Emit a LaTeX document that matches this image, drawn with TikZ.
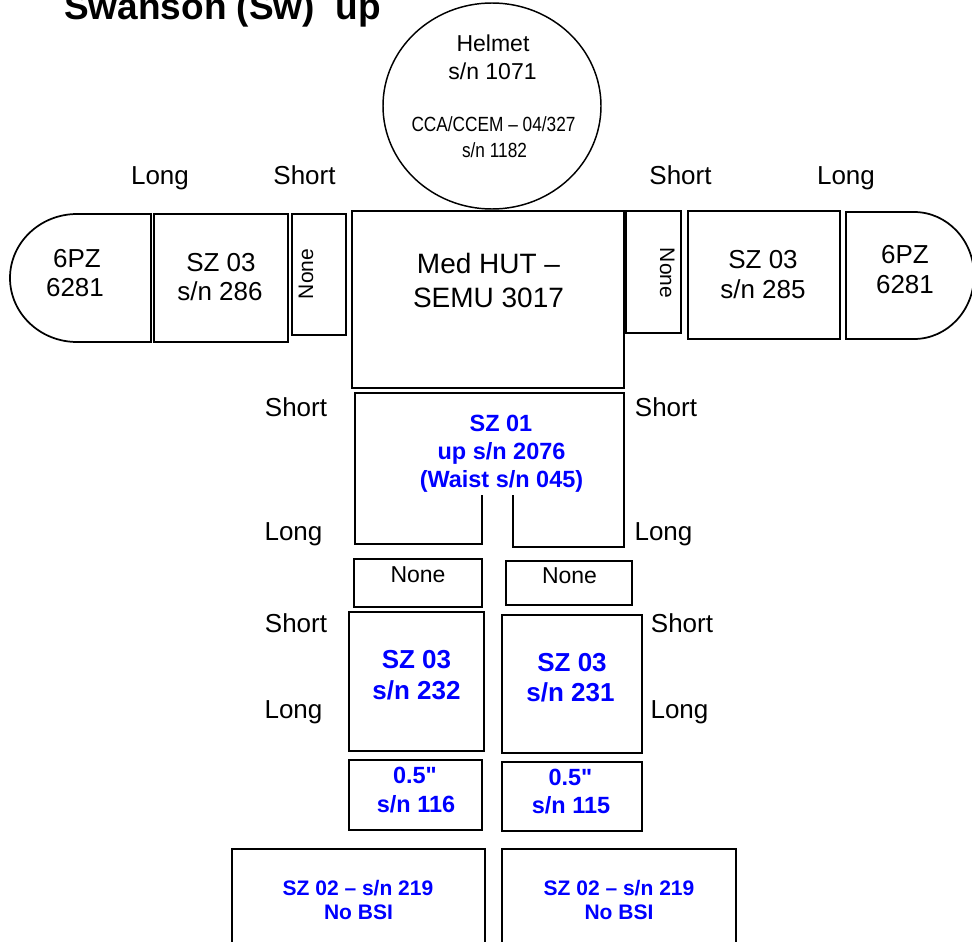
\documentclass[tikz,border=0pt]{standalone}
\usepackage{fontspec}
\setmainfont{Liberation Sans}
\newfontfamily\narrowfont[FakeStretch=0.84]{Liberation Sans}
\newfontfamily\rawfont{Liberation Sans}
\definecolor{szblue}{RGB}{0,0,255}
\tikzset{
  part/.style={draw=black, line width=1.3pt, line join=miter},
  headline/.style={draw=black, line width=1.1pt},
  txt/.style={inner sep=0pt, anchor=base},
  lbl/.style={txt, font=\fontsize{19.5}{23}\selectfont},
  armtxt/.style={txt, font=\fontsize{19.5}{23}\selectfont},
  helmtxt/.style={txt, font=\fontsize{17.25}{20}\selectfont},
  narrowtxt/.style={txt, font=\narrowfont\fontsize{15.4}{18}\selectfont},
  hugtxt/.style={txt, font=\fontsize{21}{24}\selectfont},
  nonetxt/.style={txt, font=\fontsize{17.25}{20}\selectfont},
  sidenone/.style={txt, font=\fontsize{15.75}{18}\selectfont},
  bluemid/.style={txt, text=szblue, font=\bfseries\fontsize{17.6}{20}\selectfont},
  bluebig/.style={txt, text=szblue, font=\bfseries\fontsize{19.5}{23}\selectfont},
  bluesmall/.style={txt, text=szblue, font=\bfseries\fontsize{15.75}{18}\selectfont},
}
\newcommand{\inchmark}{{\rawfont\bfseries\fontsize{17.6}{20}\selectfont "}}
\begin{document}
\begin{tikzpicture}[x=0.75pt, y=-0.75pt]
\useasboundingbox (0,0) rectangle (972,942);
\clip (0,0) rectangle (972,942);

% title
\node[txt, anchor=base west, font=\bfseries\fontsize{27.75}{30}\selectfont] (title) at (64,20) {Swanson (Sw)\ \ up};

% helmet
\draw[headline] (492,106) ellipse [x radius=109, y radius=103];
\node[helmtxt] (helm1) at (493,52) {Helmet};
\node[helmtxt] (helm2) at (492.5,80) {s/n 1071};
\node[narrowtxt] (helm3) at (493.5,132) {CCA/CCEM – 04/327};
\node[narrowtxt] (helm4) at (494.5,157) {s/n 1182};

% top labels
\node[lbl] (tl1) at (160,185) {Long};
\node[lbl] (tl2) at (304.5,185) {Short};
\node[lbl] (tr1) at (680.5,185) {Short};
\node[lbl] (tr2) at (846,185) {Long};

% left arm
\draw[part] (151,342) -- (77,342) arc[start angle=90, end angle=270, x radius=67, y radius=64] -- (151,214) -- cycle;
\node[armtxt] (lpz1) at (77,267) {6PZ};
\node[armtxt] (lpz2) at (75,296) {6281};
\draw[part] (154,214) rectangle (288,342);
\node[armtxt] (lsz1) at (221,271) {SZ 03};
\node[armtxt] (lsz2) at (220,300) {s/n 286};
\draw[part] (292,214) rectangle (346,335);
\node[sidenone, rotate=90] (lnone) at (313,274) {None};

% torso (helmet unit)
\draw[part] (352,211) rectangle (624,388);
\node[hugtxt] (hut1) at (488.5,273) {Med HUT –};
\node[hugtxt] (hut2) at (488.5,307) {SEMU 3017};

% right arm
\draw[part] (626,211) rectangle (681,333);
\node[sidenone, rotate=-90] (rnone) at (660,273) {None};
\draw[part] (688,211) rectangle (840,339);
\node[armtxt] (rsz1) at (763,268) {SZ 03};
\node[armtxt] (rsz2) at (763,298) {s/n 285};
\draw[part] (846,339) -- (846,212) -- (914,212) arc[start angle=-90, end angle=90, x radius=60, y radius=63.5] -- cycle;
\node[armtxt] (rpz1) at (905,263) {6PZ};
\node[armtxt] (rpz2) at (905,293) {6281};

% SZ 01 (waist)
\draw[part] (482,495) -- (482,544) -- (355,544) -- (355,393) -- (624,393) -- (624,547) -- (513,547) -- (513,495);
\node[bluemid] (w1) at (501,431) {SZ 01};
\node[bluemid] (w2) at (501.5,459) {up s/n 2076};
\node[bluemid] (w3) at (501.5,487) {(Waist s/n 045)};
\node[lbl] (ws1) at (296,416) {Short};
\node[lbl] (ws2) at (666,416) {Short};
\node[lbl] (wl1) at (293.5,540) {Long};
\node[lbl] (wl2) at (663.5,540) {Long};

% None boxes
\draw[part] (354,559) rectangle (482,607);
\node[nonetxt] (n1) at (418,582) {None};
\draw[part] (506,561) rectangle (632,605);
\node[nonetxt] (n2) at (569.5,583) {None};

% legs SZ 03
\draw[part] (349,612) rectangle (484,751);
\node[bluebig] (lg1) at (416.5,668) {SZ 03};
\node[bluebig] (lg2) at (416.5,699) {s/n 232};
\draw[part] (502,615) rectangle (642,753);
\node[bluebig] (rg1) at (572,671) {SZ 03};
\node[bluebig] (rg2) at (570.5,701.5) {s/n 231};
\node[lbl] (ls) at (296,632) {Short};
\node[lbl] (ll) at (293.5,718) {Long};
\node[lbl] (rs) at (682,632) {Short};
\node[lbl] (rl) at (679.5,718) {Long};

% 0.5 inch spacers
\draw[part] (349,760) rectangle (482,830);
\node[bluemid] (ls1) at (415,783) {0.5\inchmark};
\node[bluemid] (ls2) at (416,812) {s/n 116};
\draw[part] (502,762) rectangle (642,831);
\node[bluemid] (rs1) at (570.5,785) {0.5\inchmark};
\node[bluemid] (rs2) at (571,813) {s/n 115};

% SZ 02 feet
\draw[part] (232,950) -- (232,849) -- (485,849) -- (485,950);
\node[bluesmall] (lf1) at (358,895) {SZ 02 – s/n 219};
\node[bluesmall] (lf2) at (358.5,919) {No BSI};
\draw[part] (502,950) -- (502,849) -- (736,849) -- (736,950);
\node[bluesmall] (rf1) at (619,895) {SZ 02 – s/n 219};
\node[bluesmall] (rf2) at (619,919) {No BSI};
\end{tikzpicture}
\end{document}
